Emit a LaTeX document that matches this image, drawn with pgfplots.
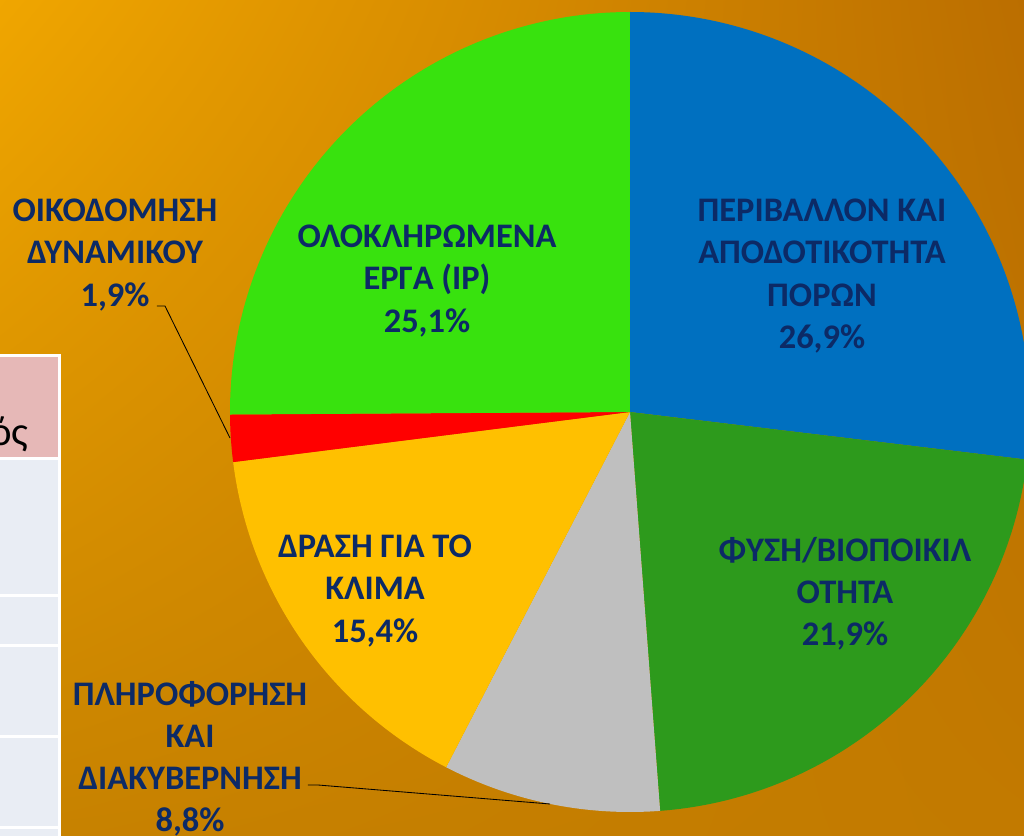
\documentclass[border=0pt]{standalone}
\usepackage{pgfplots}
\pgfplotsset{compat=1.18}
\usetikzlibrary{shadings}
\usepackage{fontspec}
\setmainfont{Carlito}
\definecolor{pblue}{HTML}{0070C0}
\definecolor{pdgreen}{HTML}{2D9A1C}
\definecolor{pgray}{HTML}{BFBFBF}
\definecolor{pyellow}{HTML}{FFC000}
\definecolor{pred}{HTML}{FF0000}
\definecolor{plgreen}{HTML}{38E20E}
\definecolor{navy}{HTML}{0C2A66}
\definecolor{bgTL}{HTML}{F0A600}
\definecolor{bgTR}{HTML}{BB6E00}
\definecolor{bgBL}{HTML}{C78200}
\definecolor{bgBR}{HTML}{C27A00}
\definecolor{tabhead}{HTML}{E6B8B7}
\definecolor{tabrow}{HTML}{E9EDF4}
\begin{document}%
\begin{tikzpicture}
% shares of the pie (%), clockwise from 12 o'clock
\pgfmathsetmacro\aA{90}
\pgfmathsetmacro\aB{\aA-3.6*26.9}
\pgfmathsetmacro\aC{\aB-3.6*21.9}
\pgfmathsetmacro\aD{\aC-3.6*8.8}
\pgfmathsetmacro\aE{\aD-3.6*15.4}
\pgfmathsetmacro\aF{\aE-3.6*1.9}
\pgfmathsetmacro\aG{\aF-3.6*25.1}
\useasboundingbox (0,0) rectangle (256mm,209mm);
\clip (0,0) rectangle (256mm,209mm);
\begin{axis}[at={(0,0)}, anchor=origin, x=0.25mm, y=0.25mm,
  xmin=0, xmax=1024, ymin=0, ymax=836, hide axis, clip=false,
  xtick=\empty, ytick=\empty]
% background
\shade[upper left=bgTL, upper right=bgTR, lower left=bgBL, lower right=bgBR]
  (axis cs:-2,-2) rectangle (axis cs:1026,838);
% partial table at left
\fill[white] (axis cs:-5,-5) rectangle (axis cs:61,482);
\fill[tabhead] (axis cs:-5,379) rectangle (axis cs:58,479);
\fill[tabrow] (axis cs:-5,-5) rectangle (axis cs:58,376);
\fill[white] (axis cs:-5,239.5) rectangle (axis cs:58,242.5);
\fill[white] (axis cs:-5,188.5) rectangle (axis cs:58,191.5);
\fill[white] (axis cs:-5,97.5) rectangle (axis cs:58,100.5);
\fill[white] (axis cs:-5,6.5) rectangle (axis cs:58,9.5);
\node[anchor=base east, inner sep=0pt, font=\fontsize{29}{34}\selectfont, text=black]
  at (axis cs:29,391) {ός};
% pie
\fill[pblue] (axis cs:630,424) -- ++(\aA:100mm) arc[start angle=\aA, end angle=\aB, radius=100mm] -- cycle;
\fill[pdgreen] (axis cs:630,424) -- ++(\aB:100mm) arc[start angle=\aB, end angle=\aC, radius=100mm] -- cycle;
\fill[pgray] (axis cs:630,424) -- ++(\aC:100mm) arc[start angle=\aC, end angle=\aD, radius=100mm] -- cycle;
\fill[pyellow] (axis cs:630,424) -- ++(\aD:100mm) arc[start angle=\aD, end angle=\aE, radius=100mm] -- cycle;
\fill[pred] (axis cs:630,424) -- ++(\aE:100mm) arc[start angle=\aE, end angle=\aF, radius=100mm] -- cycle;
\fill[plgreen] (axis cs:630,424) -- ++(\aF:100mm) arc[start angle=\aF, end angle=\aG, radius=100mm] -- cycle;
% leader lines
\draw[black, line width=0.6pt] (axis cs:157,530) -- (axis cs:165,530) -- (axis cs:230,398);
\draw[black, line width=0.6pt] (axis cs:308,51) -- (axis cs:318,51) -- (axis cs:550,32);
% labels
\tikzset{lbl/.style={align=center, inner sep=0pt, text=navy,
  font=\fontsize{24.5}{30}\selectfont\bfseries}}
\node[lbl] at (axis cs:822,560) {ΠΕΡΙΒΑΛΛΟΝ ΚΑΙ\\ΑΠΟΔΟΤΙΚΟΤΗΤΑ\\ΠΟΡΩΝ\\26,9\%};
\node[lbl] at (axis cs:427,555) {ΟΛΟΚΛΗΡΩΜΕΝΑ\\ΕΡΓΑ (IP)\\25,1\%};
\node[lbl] at (axis cs:845,242) {ΦΥΣΗ/ΒΙΟΠΟΙΚΙΛ\\ΟΤΗΤΑ\\21,9\%};
\node[lbl] at (axis cs:375,245) {ΔΡΑΣΗ ΓΙΑ ΤΟ\\ΚΛΙΜΑ\\15,4\%};
\node[lbl] at (axis cs:115,581) {ΟΙΚΟΔΟΜΗΣΗ\\ΔΥΝΑΜΙΚΟΥ\\1,9\%};
\node[lbl] at (axis cs:190,77) {ΠΛΗΡΟΦΟΡΗΣΗ\\ΚΑΙ\\ΔΙΑΚΥΒΕΡΝΗΣΗ\\8,8\%};
\end{axis}
\end{tikzpicture}%
\end{document}
